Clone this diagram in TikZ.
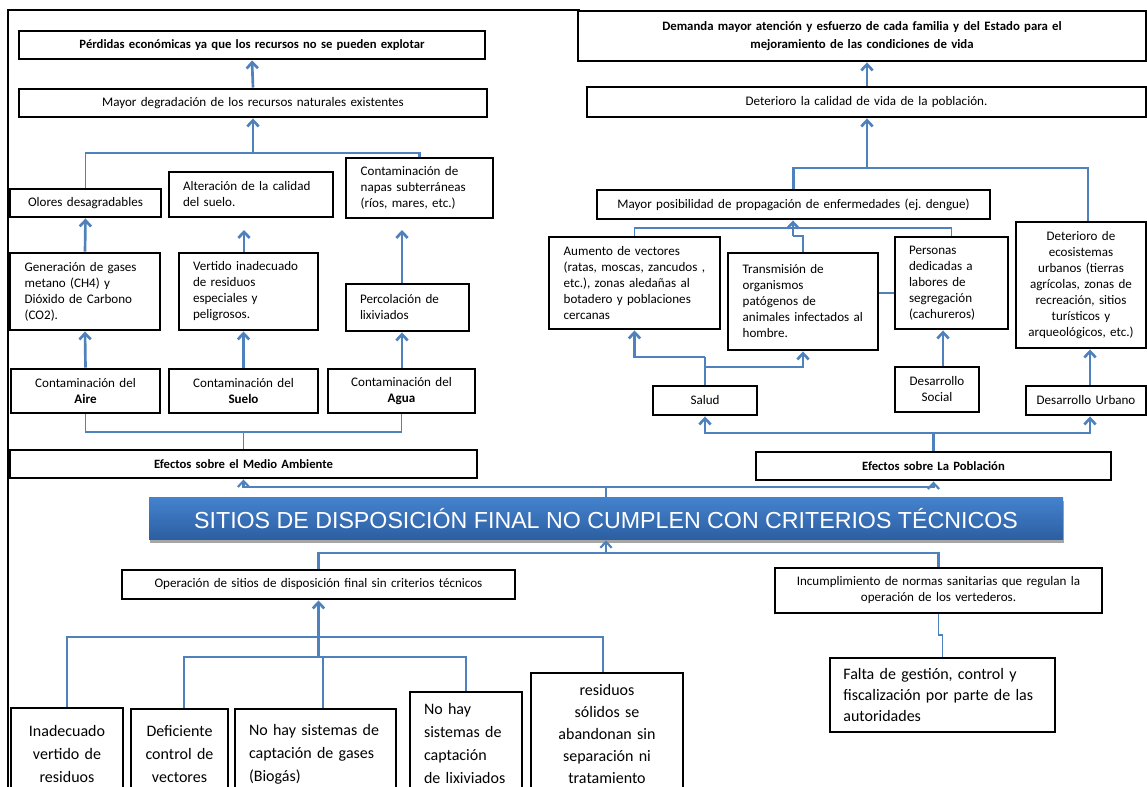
\documentclass[tikz,border=0pt]{standalone}
\usepackage{fontspec}
\usepackage{calc}
\setmainfont{Carlito}
\newfontfamily\bannerfont{Liberation Sans}
\usetikzlibrary{arrows.meta,shadows}
\frenchspacing

\definecolor{lnblue}{RGB}{79,129,189}
\definecolor{bantop}{RGB}{68,130,206}
\definecolor{banbot}{RGB}{44,94,160}

\newcommand\szA{\fontsize{9.8}{12}\selectfont}
\newcommand\szB{\fontsize{12}{17.25}\selectfont}
\newcommand\szC{\fontsize{12}{16}\selectfont}
\newcommand\szD{\fontsize{12}{16.5}\selectfont}

% box given by its corners (in px units): name, x1, y1, x2, y2, options, text
\newcommand\placebox[7]{%
  \pgfmathsetlengthmacro\pbw{(#4-#2)*0.75pt}%
  \pgfmathsetlengthmacro\pbh{(#5-#3)*0.75pt}%
  \node[box,minimum width=\pbw,minimum height=\pbh,text width=\pbw-4pt,#6]
    (#1) at ({(#2+#4)/2},{(#3+#5)/2}) {#7};}

\begin{document}
\begin{tikzpicture}[x=0.75pt,y=-0.75pt,
  box/.style={draw=black,line width=2.2pt,fill=white,inner xsep=2pt,inner ysep=1pt,
    font=\szA,align=center},
  lft/.style={align=left,execute at begin node={\leftskip=#1\relax}},
  bld/.style={font=\fontsize{9.5}{12}\selectfont\bfseries},
  banner/.style={minimum width=685.5pt,minimum height=31.5pt,inner sep=0pt,
    top color=bantop,bottom color=banbot,text=white,
    font=\bannerfont\fontsize{17.4}{20}\selectfont,
    drop shadow={shadow xshift=1pt,shadow yshift=-2pt,fill=black!35,opacity=1}},
  thk/.style={draw=lnblue,line width=2pt},
  mid/.style={draw=lnblue,line width=1.6pt},
  thn/.style={draw=lnblue,line width=1pt},
  arr/.style={-{Straight Barb[length=4.5pt,width=8.5pt]}}]
\useasboundingbox (0,0) rectangle (1147,787);
\clip (0,0) rectangle (1147,787);

% outer frame
\draw[line width=1.5pt] (8,806) -- (8,10) -- (580,10);

% central problem
\node[banner] (banner) at (606,519) {SITIOS DE DISPOSICIÓN FINAL NO CUMPLEN CON CRITERIOS TÉCNICOS};

% ---- effects on the environment
\placebox{perd}{19}{31}{485}{59}{bld}{Pérdidas económicas ya que los recursos no se pueden explotar}
\placebox{mdeg}{19}{89}{487}{117}{}{Mayor degradación de los recursos naturales existentes}
\placebox{olores}{10}{189}{161}{217}{}{Olores desagradables}
\placebox{alter}{169}{172}{333}{217}{lft=8.5pt}{Alteración de la calidad\\del suelo.}
\placebox{napas}{346}{158}{493}{218}{lft=9pt}{Contaminación de\\napas subterráneas\\(ríos, mares, etc.)}
\placebox{gen}{10}{253}{160}{330}{lft=9pt}{Generación de gases\\metano (CH4) y\\Dióxido de Carbono\\(CO2).}
\placebox{vert}{179}{253}{318}{330}{lft=8.5pt}{Vertido inadecuado\\de residuos\\especiales y\\peligrosos.}
\placebox{perc}{346}{284}{469}{331}{lft=8.5pt}{Percolación de\\lixiviados}
\placebox{aire}{11}{369}{160}{413}{}{Contaminación del\\\textbf{Aire}}
\placebox{suelo}{169}{369}{318}{413}{}{Contaminación del\\\textbf{Suelo}}
\placebox{agua}{328}{369}{475}{413}{}{Contaminación del\\\textbf{Agua}}
\placebox{efma}{10}{450}{477}{478}{bld}{Efectos sobre el Medio Ambiente}

% ---- effects on the population
\placebox{dem}{578}{11}{1146}{61}{font=\fontsize{9.6}{13.5}\selectfont\bfseries}{Demanda mayor atención y esfuerzo de cada familia y del Estado para el\\mejoramiento de las condiciones de vida}
\placebox{detcal}{587}{87}{1146}{117}{}{Deterioro la calidad de vida de la población.}
\placebox{mposib}{597}{190}{990}{219}{}{Mayor posibilidad de propagación de enfermedades (ej. dengue)}
\placebox{aum}{549}{237}{720}{329}{lft=9pt}{Aumento de vectores\\(ratas, moscas, zancudos ,\\etc.), zonas aledañas al\\botadero y poblaciones\\cercanas}
\placebox{trans}{728}{253}{878}{350}{lft=9pt}{Transmisión de\\organismos\\patógenos de\\animales infectados al\\hombre.}
\placebox{pers}{895}{237}{1008}{329}{lft=8.5pt}{Personas\\dedicadas a\\labores de\\segregación\\(cachureros)}
\placebox{ecos}{1016}{222}{1146}{348}{}{Deterioro de\\ecosistemas\\urbanos (tierras\\agrícolas, zonas de\\recreación, sitios\\turísticos y\\arqueológicos, etc.)}
\placebox{salud}{653}{386}{757}{415}{}{Salud}
\placebox{dsoc}{895}{367}{979}{412}{}{Desarrollo\\Social}
\placebox{durb}{1026}{386}{1146}{415}{}{Desarrollo Urbano}
\placebox{efpob}{756}{452}{1111}{480}{bld}{Efectos sobre La Población}

% ---- causes
\placebox{oper}{122}{570}{515}{599}{}{Operación de sitios de disposición final sin criterios técnicos}
\placebox{incum}{775}{568}{1102}{613}{}{Incumplimiento de normas sanitarias que regulan la\\operación de los vertederos.}
\placebox{falta}{830}{658}{1055}{732}{font=\szC,lft=8pt}{Falta de gestión, control y\\fiscalización por parte de las\\autoridades}
\placebox{inad}{11}{708}{123}{800}{font=\szB}{Inadecuado\\vertido de\\residuos}
\placebox{defi}{131}{709}{228}{799}{font=\szB}{Deficiente\\control de\\vectores}
\placebox{gases}{235}{709}{396}{799}{font=\szB,lft=8.5pt}{No hay sistemas de\\\makebox[\widthof{No hay sistemas de}][s]{captación de gases}\\(Biogás)}
\placebox{lix}{410}{692}{522}{796}{font=\szB,lft=8.5pt}{No hay\\sistemas de\\captación\\de lixiviados}
\placebox{resid}{531}{673}{683}{795}{font=\szD}{residuos\\sólidos se\\abandonan sin\\separación ni\\tratamiento}

% ---- junction points
\coordinate (jl1) at (253,153);
\coordinate (vtip) at (244,230);
\coordinate (ptip) at (402,230);
\coordinate (jl2) at (243.5,432);
\coordinate (jb1) at (606,487);
\coordinate (jr1) at (867,168);
\coordinate (jr2) at (1088,168);
\coordinate (jr3) at (793,228);
\coordinate (jr4) at (793,236);
\coordinate (jr5) at (880,293);
\coordinate (js1) at (705,357);
\coordinate (js2) at (705,367);
\coordinate (jds) at (943,300);
\coordinate (jdu) at (1090,300);
\coordinate (je1) at (933.5,433);
\coordinate (jb2) at (606,553);
\coordinate (jf) at (942.5,635);
\coordinate (jo1) at (318.5,637);
\coordinate (jo2) at (603,637);
\coordinate (jo3) at (318.5,657);
\coordinate (jd) at (184,657);
\coordinate (jg) at (323,657);
\coordinate (jx) at (466,657);

% ---- environment connectors
\draw[thk,arr] (mdeg.north) -- (perd.south);
\draw[thn] (olores.north) |- (jl1);
\draw[thk] (jl1) -| (napas.north);
\draw[thk,arr] (jl1) -- (jl1 |- mdeg.south);
\draw[thk,arr] (gen.north) -- (olores.south);
\draw[thk,arr] (vtip |- vert.north) -- (vtip);
\draw[thk,arr] (ptip |- perc.north) -- (ptip);
\draw[thk,arr] (aire.north) -- (gen.south);
\draw[thk,arr] (suelo.north) -- (suelo.north |- vert.south);
\draw[thk,arr] (ptip |- agua.north) -- (ptip |- perc.south);
\draw[thn] (aire.south) |- (jl2) -| (agua.south);
\draw[thn] (jl2) -- (efma.north);

% ---- banner to effects
\draw[mid] (banner.north) -- (jb1);
\draw[mid,arr] (jb1) -| (efma.south);
\draw[mid,arr] (jb1) -| (efpob.south);

% ---- population connectors
\draw[thk,arr] (jr1 |- detcal.north) -- (jr1 |- dem.south);
\draw[thk] (mposib.north) |- (jr1);
\draw[thn] (jr1) -- (jr2) -- (jr2 |- ecos.north);
\draw[thk,arr] (jr1) -- (jr1 |- detcal.south);
\draw[thn] (aum.north) |- (jr3) -| (pers.north);
\draw[thk] (trans.north) |- (jr4);
\draw[thk,arr] (jr4) -- (jr4 |- mposib.south);
\draw[thn] (jr5 -| trans.east) -- (jr5 -| pers.west);
\draw[thk] (salud.north) -- (js1);
\draw[thk,arr] (js1) -| (aum.south);
\draw[thk,arr] (js2) -| (trans.south);
\draw[thk,arr] (jds |- dsoc.north) -- (jds |- pers.south);
\draw[thk,arr] (jdu |- durb.north) -- (jdu |- ecos.south);
\draw[thk] (efpob.north) -- (je1);
\draw[thk,arr] (je1) -| (salud.south);
\draw[thk,arr] (je1) -| (jdu |- durb.south);

% ---- causes connectors
\draw[mid,arr] (jb2) -- (banner.south);
\draw[mid] (oper.north) |- (jb2);
\draw[mid] (jb2) -| (incum.north);
\draw[thn] (incum.south) -- (incum.south |- jf) -- (jf) -- (falta.north);
\draw[thk,arr] (jo1) -- (oper.south);
\draw[thk] (inad.north) |- (jo2) -- (jo2 |- resid.north);
\draw[thk] (jo1) -- (jo3);
\draw[thn] (jd |- defi.north) |- (jx) -- (jx |- lix.north);
\draw[thn] (jg) -- (jg |- gases.north);
\end{tikzpicture}
\end{document}
